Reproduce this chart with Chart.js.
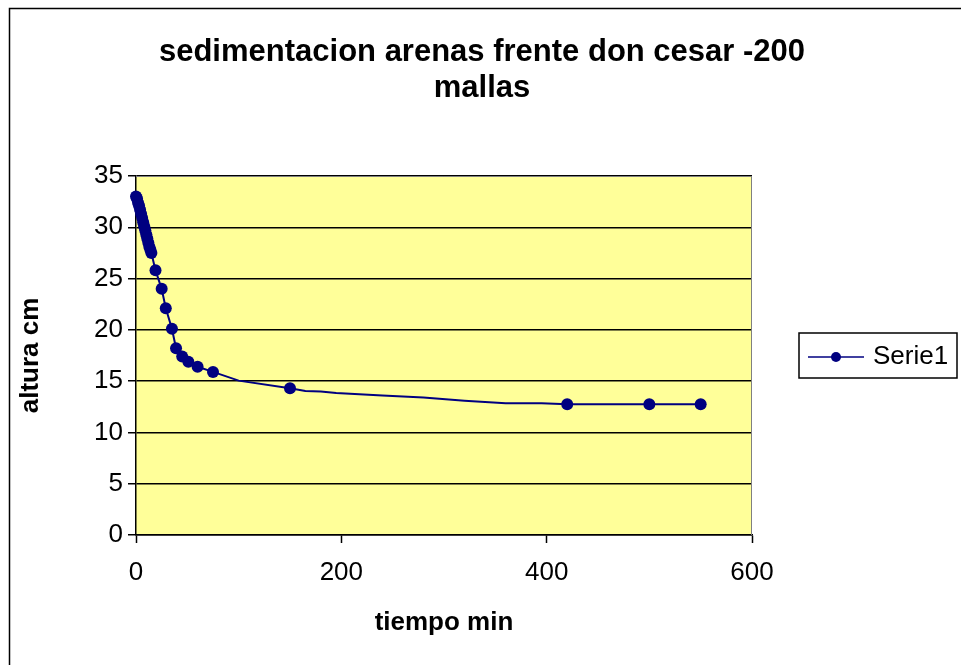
<!DOCTYPE html>
<html>
<head>
<meta charset="utf-8">
<script src="https://cdn.jsdelivr.net/npm/chart.js@4/dist/chart.umd.min.js"></script>
<style>
  body { margin: 0; background: #fff; }
  #wrap { width: 961px; height: 665px; }
</style>
</head>
<body>
<div id="wrap"><canvas id="chartSedimentacion" width="961" height="665"></canvas></div>
<script>
// datos
var tiempo = [0, 1, 2, 3, 4, 5, 6, 7, 8, 9, 10, 11, 12, 13, 14, 15,
  19, 25, 29, 35, 39, 45, 51, 60, 75, 100, 150,
  165, 180, 195, 240, 280, 320, 360, 395,
  420, 500, 550]
var altura = [33.0, 32.8, 32.4, 32.1, 31.7, 31.3, 30.9, 30.5, 30.1, 29.7, 29.3, 28.9, 28.5, 28.1, 27.8, 27.5,
  25.8, 24.0, 22.1, 20.1, 18.2, 17.4, 16.9, 16.4, 15.9, 15.05, 14.3,
  14.05, 14.0, 13.85, 13.6, 13.4, 13.1, 12.85, 12.85,
  12.75, 12.75, 12.75]
var xTicks = [0, 200, 400, 600]
var yTicks = [0, 5, 10, 15, 20, 25, 30, 35]
var titulo = ['sedimentacion arenas frente don cesar -200', 'mallas']

var fuente = "'Liberation Sans', Arial, sans-serif"
var azul = '#000080'

var puntos = tiempo.map(function(t, i) { return { x: t, y: altura[i] } })

// fondo amarillo del area de trazado, marco exterior y titulo
var fondoPlugin = {
  id: 'fondo',
  beforeDraw: function(chart) {
    var ctx = chart.ctx
    var a = chart.chartArea
    ctx.save()
    ctx.fillStyle = '#FFFF99'
    ctx.fillRect(a.left, a.top, a.right - a.left, a.bottom - a.top)
    ctx.strokeStyle = '#000'
    ctx.lineWidth = 1.5
    ctx.strokeRect(9.5, 8.5, 1200, 1200)
    ctx.fillStyle = '#000'
    ctx.font = 'bold 31px ' + fuente
    ctx.textAlign = 'center'
    ctx.textBaseline = 'middle'
    ctx.fillText(titulo[0], 482, 52)
    ctx.fillText(titulo[1], 482, 88)
    ctx.restore()
  },
  afterDraw: function(chart) {
    var ctx = chart.ctx
    var a = chart.chartArea
    ctx.save()
    ctx.strokeStyle = '#808080'
    ctx.lineWidth = 1
    ctx.beginPath()
    ctx.moveTo(a.left, a.top + 0.5)
    ctx.lineTo(a.right - 0.5, a.top + 0.5)
    ctx.lineTo(a.right - 0.5, a.bottom)
    ctx.stroke()
    ctx.restore()
  }
}

// leyenda estilo Excel a la derecha
var leyendaPlugin = {
  id: 'leyenda',
  afterDraw: function(chart) {
    var ctx = chart.ctx
    var ds = chart.data.datasets[0]
    ctx.save()
    ctx.fillStyle = '#fff'
    ctx.fillRect(799, 333, 158, 45)
    ctx.strokeStyle = '#000'
    ctx.lineWidth = 1.5
    ctx.strokeRect(799, 333, 158, 45)
    ctx.strokeStyle = azul
    ctx.lineWidth = 1.5
    ctx.beginPath()
    ctx.moveTo(808, 357)
    ctx.lineTo(864, 357)
    ctx.stroke()
    ctx.fillStyle = azul
    ctx.beginPath()
    ctx.arc(836, 357, 5, 0, Math.PI * 2)
    ctx.fill()
    ctx.fillStyle = '#000'
    ctx.font = '26px ' + fuente
    ctx.textBaseline = 'middle'
    ctx.fillText(ds.label, 873, 357)
    ctx.restore()
  }
}

var chartSedimentacion = new Chart(document.getElementById('chartSedimentacion').getContext('2d'), {
  type: 'line',
  data: {
    datasets: [{
      label: 'Serie1',
      data: puntos,
      borderColor: azul,
      backgroundColor: azul,
      borderWidth: 2,
      // los puntos intermedios de la curva no llevan marcador
      pointRadius: function(c) {
        var t = tiempo[c.dataIndex]
        return (t > 75 && t < 420 && t != 150) ? 0 : 6
      },
      pointHoverRadius: 6,
      pointBorderWidth: 0,
      tension: 0,
      fill: false,
      clip: false
    }]
  },
  options: {
    responsive: false,
    animation: false,
    layout: {
      padding: { left: 0, right: 209, top: 176, bottom: 0 }
    },
    plugins: {
      legend: { display: false },
      tooltip: { enabled: false },
      title: { display: false }
    },
    scales: {
      x: {
        type: 'linear',
        min: 0,
        max: 600,
        afterBuildTicks: function(s) { s.ticks = xTicks.map(function(v) { return { value: v } }) },
        afterFit: function(s) { s.height = 130 },
        border: { color: '#000', width: 1.5 },
        grid: { drawOnChartArea: false, drawTicks: true, tickLength: 8, color: '#000', tickWidth: 1.5 },
        ticks: { color: '#000', font: { family: fuente, size: 26 }, padding: 14, maxRotation: 0 },
        title: {
          display: true,
          text: 'tiempo min',
          color: '#000',
          font: { family: fuente, size: 26, weight: 'bold' },
          padding: { top: 0, bottom: 27 }
        }
      },
      y: {
        min: 0,
        max: 35,
        afterBuildTicks: function(s) { s.ticks = yTicks.map(function(v) { return { value: v } }) },
        afterFit: function(s) { s.width = 136 },
        border: { color: '#000', width: 1.5 },
        grid: { color: '#000', lineWidth: 1.5, drawTicks: true, tickLength: 8, tickColor: '#000' },
        ticks: { color: '#000', font: { family: fuente, size: 26 }, padding: 5 },
        title: {
          display: true,
          text: 'altura cm',
          color: '#000',
          font: { family: fuente, size: 26, weight: 'bold' },
          padding: { top: 15, bottom: 0 }
        }
      }
    }
  },
  plugins: [fondoPlugin, leyendaPlugin]
})
</script>
</body>
</html>
